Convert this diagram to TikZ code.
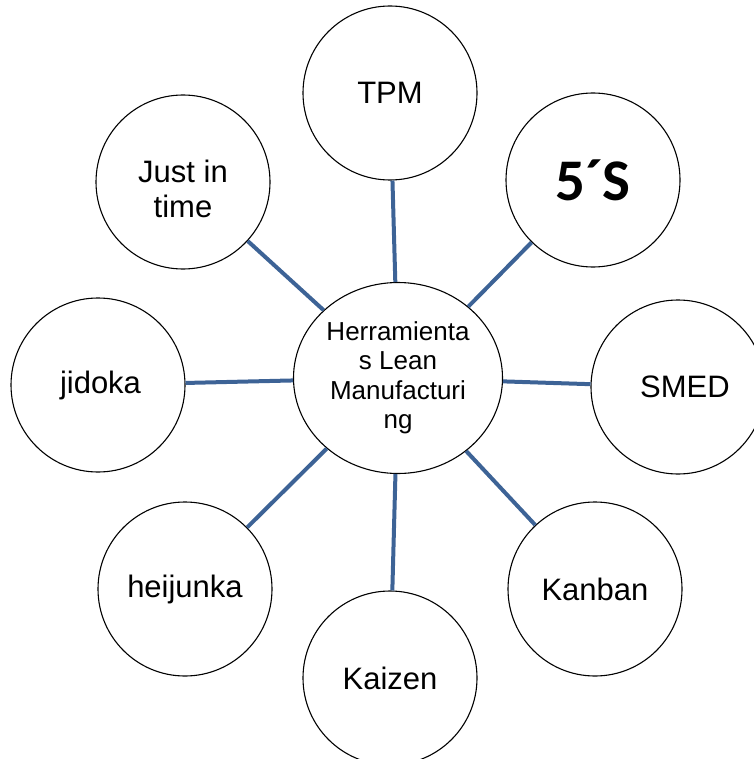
\documentclass[tikz,border=0pt]{standalone}
\usepackage{fontspec}
\setmainfont{Liberation Sans}
\newfontfamily\calibrifont{Carlito}
\usetikzlibrary{shapes.geometric}
\definecolor{spokeblue}{RGB}{61,99,150}
\begin{document}
\begin{tikzpicture}[x=1pt,y=-1pt,
  tool/.style={circle,draw=black,line width=1.1pt,minimum size=174pt,inner sep=0pt,
    align=center,font=\fontsize{31}{35}\selectfont},
  hub/.style={ellipse,draw=black,line width=1.1pt,minimum width=209pt,minimum height=191pt,
    inner sep=0pt,align=center,font=\fontsize{26}{29.5}\selectfont},
  spoke/.style={draw=spokeblue,line width=4pt}]
\useasboundingbox (0,0) rectangle (753,759);

% central tool box
\node[hub] (hub) at (398,378) {Herramienta\\s Lean\\Manufacturi\\ng};

% surrounding tools
\node[tool] (tpm)    at (390,93)  {TPM};
\node[tool] (fives)  at (593,180) {\calibrifont\bfseries\fontsize{59}{60}\selectfont 5´S};
\node[tool] (smed)   at (678,387) {\hspace*{14pt}SMED};
\node[tool] (kanban) at (595,589) {Kanban};
\node[tool] (kaizen) at (390,678) {Kaizen};
\node[tool] (heij)   at (185,589) {heijunka};
\node[tool] (jidoka) at (98,385)  {\hspace*{5pt}jidoka};
\node[tool] (jit)    at (183,182) {\rule{0pt}{36pt}Just in\\time};

% spokes
\foreach \n in {tpm,fives,smed,kanban,kaizen,heij,jidoka,jit}
  \draw[spoke] (hub) -- (\n);
\end{tikzpicture}
\end{document}
